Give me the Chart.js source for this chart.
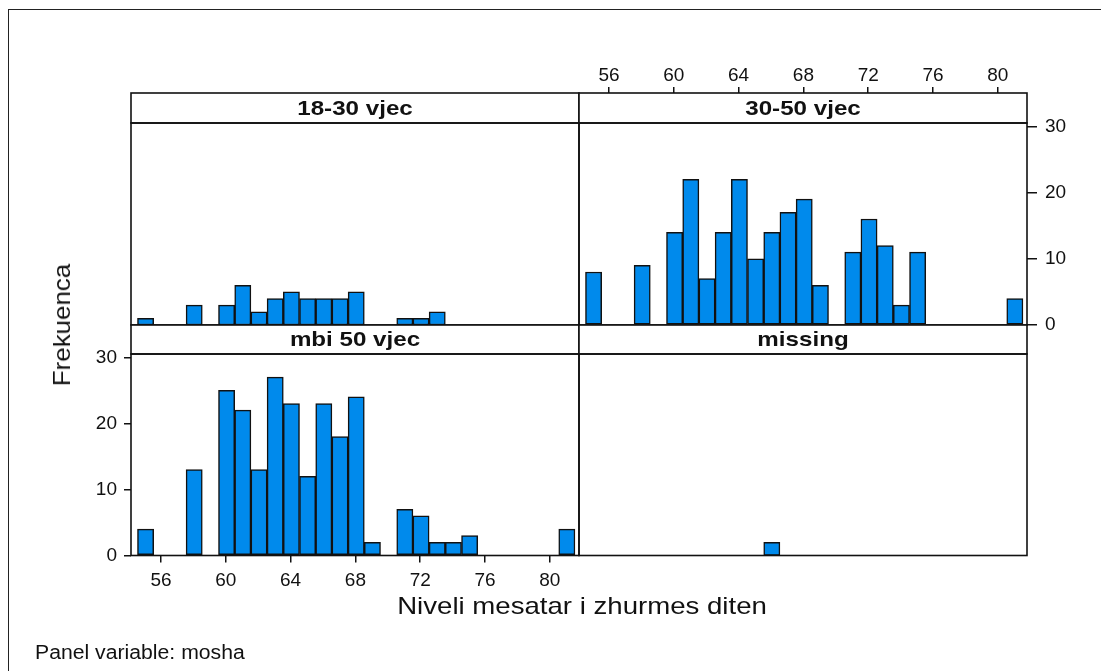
<!DOCTYPE html>
<html>
<head>
<meta charset="utf-8">
<script src="https://cdn.jsdelivr.net/npm/chart.js@4.4.1/dist/chart.umd.min.js"></script>
<style>
  body { margin: 0; background: #fff; }
  #wrap { position: relative; width: 1101px; height: 671px; overflow: hidden; background: #fff;
          font-family: 'Liberation Sans', Arial, sans-serif; color: #111; }
  #wrap canvas { position: absolute; left: 0; top: 0; }
  .frame { position: absolute; left: 8px; top: 9px; width: 1200px; height: 800px;
           border-left: 1.5px solid #222; border-top: 1.5px solid #222; }
  .lbl { position: absolute; white-space: nowrap; line-height: 1; }
</style>
</head>
<body>
<div id="wrap">
  <div class="frame"></div>
  <canvas id="p1" width="1101" height="671"></canvas>
  <canvas id="p2" width="1101" height="671"></canvas>
  <canvas id="p3" width="1101" height="671"></canvas>
  <canvas id="p4" width="1101" height="671"></canvas>
  <div class="lbl" id="ytitle" style="left:62px; top:325px; font-size:24px; transform:translate(-50%,-50%) rotate(-90deg) scaleX(1.08);">Frekuenca</div>
  <div class="lbl" id="xtitle" style="left:582px; top:606px; font-size:24px; transform:translate(-50%,-50%) scaleX(1.15);">Niveli mesatar i zhurmes diten</div>
  <div class="lbl" id="note" style="left:35px; top:652px; font-size:20px; transform-origin:left center; transform:translateY(-50%) scaleX(1.06);">Panel variable: mosha</div>
</div>
<script>
// bin centres of the histogram (width ~1)
var binMid = [55.05, 56.05, 57.05, 58.05, 59.05, 60.05, 61.05, 62.05, 63.05, 64.05,
              65.05, 66.05, 67.05, 68.05, 69.05, 70.05, 71.05, 72.05, 73.05, 74.05,
              75.05, 76.05, 77.05, 78.05, 79.05, 80.05, 81.05];
var xTicks = [56, 60, 64, 68, 72, 76, 80];
var yTicks = [0, 10, 20, 30];
var panelNames = ['18-30 vjec', '30-50 vjec', 'mbi 50 vjec', 'missing'];

var freq1830    = [1,0,0,3,0,3,6,2,4,5,4,4,4,5,0,0,1,1,2,0,0,0,0,0,0,0,0];
var freq3050    = [8,0,0,9,0,14,22,7,14,22,10,14,17,19,6,0,11,16,12,3,11,0,0,0,0,0,4];
var freqMbi50   = [4,0,0,13,0,25,22,13,27,23,12,23,18,24,2,0,7,6,2,2,3,0,0,0,0,0,4];
var freqMissing = [0,0,0,0,0,0,0,0,0,0,0,2,0,0,0,0,0,0,0,0,0,0,0,0,0,0,0];

var FONT = "'Liberation Sans', Arial, sans-serif";

// strip header + panel box
var panelFrame = {
  id: 'panelFrame',
  afterDraw: function(chart, args, opts) {
    var a = chart.chartArea, ctx = chart.ctx;
    var w = a.right - a.left;
    ctx.save();
    ctx.fillStyle = '#fff';
    ctx.fillRect(a.left, a.top - opts.strip, w, opts.strip);
    ctx.strokeStyle = '#111';
    ctx.lineWidth = 1.6;
    ctx.strokeRect(a.left, a.top - opts.strip, w, opts.strip);
    ctx.strokeRect(a.left, a.top, w, a.bottom - a.top);
    ctx.fillStyle = '#111';
    ctx.font = 'bold 21px ' + FONT;
    ctx.textAlign = 'center';
    ctx.textBaseline = 'middle';
    ctx.translate(a.left + w / 2, a.top - opts.strip / 2 + 1);
    ctx.scale(1.15, 1);
    ctx.fillText(opts.title, 0, 0);
    ctx.restore();
  }
};

function makePanel(id, title, values, pad, strip, xPos, yPos) {
  var pts = binMid.map(function(x, i) { return { x: x, y: values[i] }; });
  var xs = {
    type: 'linear', min: 54.15, max: 81.8, offset: false,
    display: !!xPos, position: xPos || 'bottom',
    afterBuildTicks: function(s) { s.ticks = xTicks.map(function(v) { return { value: v }; }); },
    grid: { drawOnChartArea: false, offset: false, color: '#111', lineWidth: 1.5,
            tickLength: xPos === 'top' ? strip + 6 : 7 },
    border: { display: false },
    ticks: { autoSkip: false, maxRotation: 0, color: '#111', font: { size: 19, family: FONT },
             padding: xPos === 'top' ? 0 : 7 }
  };
  if (xPos) xs.afterFit = function(s) { s.height = xPos === 'top' ? 70 : 40; };
  var ys = {
    type: 'linear', min: 0, max: 30.5,
    display: !!yPos, position: yPos || 'left',
    afterBuildTicks: function(s) { s.ticks = yTicks.map(function(v) { return { value: v }; }); },
    grid: { drawOnChartArea: false, color: '#111', lineWidth: 1.5, tickLength: yPos === 'right' ? 10 : 7 },
    border: { display: false },
    ticks: { color: '#111', font: { size: 19, family: FONT }, padding: yPos === 'right' ? 8 : 7 }
  };
  if (yPos) ys.afterFit = function(s) { s.width = yPos === 'right' ? 40 : 50; };

  return new Chart(document.getElementById(id), {
    type: 'bar',
    data: {
      datasets: [{
        label: title,
        data: pts,
        backgroundColor: '#008aec',
        borderColor: '#111',
        borderWidth: 1.5,
        borderSkipped: false,
        categoryPercentage: 1,
        barPercentage: 1
      }]
    },
    options: {
      responsive: false,
      animation: false,
      devicePixelRatio: 1,
      layout: { padding: pad },
      scales: { x: xs, y: ys },
      plugins: {
        legend: { display: false },
        tooltip: { enabled: false },
        panelFrame: { title: title, strip: strip }
      }
    },
    plugins: [panelFrame]
  });
}

makePanel('p1', panelNames[0], freq1830,    { left: 131, right: 522, top: 123, bottom: 346 }, 30, null, null);
makePanel('p2', panelNames[1], freq3050,    { left: 579, right: 34,  top: 53,  bottom: 346 }, 30, 'top', 'right');
makePanel('p3', panelNames[2], freqMbi50,   { left: 81,  right: 522, top: 354, bottom: 75.5 }, 29, 'bottom', 'left');
makePanel('p4', panelNames[3], freqMissing, { left: 579, right: 74,  top: 354, bottom: 115.5 }, 29, null, null);
</script>
</body>
</html>
